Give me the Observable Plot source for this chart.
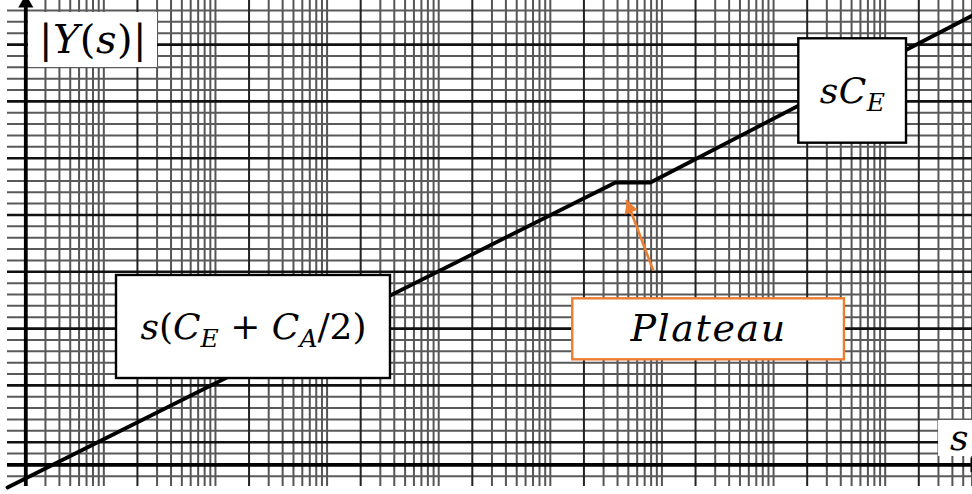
<!DOCTYPE html>
<html>
<head>
<meta charset="utf-8">
<script src="https://cdn.jsdelivr.net/npm/d3@7"></script>
<script src="https://cdn.jsdelivr.net/npm/@observablehq/plot@0.6"></script>
<style>
  html, body { margin: 0; padding: 0; background: #fff; }
  #chart svg { display: block; }
</style>
</head>
<body>
<div id="chart"></div>
<script>
// Powers of ten: values below are written as decade exponents.
const e = (p) => 10 ** p;

// Log-log paper: decades along s, and the rulings drawn inside each decade.
const decades = [0, 1, 2, 3, 4, 5, 6, 7, 8];
const subdivisions = [1, 1.5, 2, 2.5, 3, 3.5, 4, 4.5, 5];
// Horizontal rulings every 0.2 decade of |Y(s)|, a heavier one every full decade.
const yRulingSteps = d3.range(-1, 41);
const yRulingStep = 0.2;

// Asymptotic magnitude |Y(s)|: rising s(C_E + C_A/2), a short plateau, then sC_E.
const curveS = [e(-0.164), e(5.283), e(5.596), e(8.481)];
const curveY = [e(-0.398), e(4.972), e(4.972), e(7.912)];

// Annotation boxes (s and |Y| extents) and their labels.
const labelNames = ["|Y(s)|", "sC_E", "s(C_E + C_A/2)", "Plateau", "s"];
const boxS1 = [e(0.024), e(6.925), e(0.8125), e(4.900), e(8.177)];
const boxS2 = [e(1.180), e(7.890), e(3.267), e(7.334), e(8.547)];
const boxY1 = [e(6.996), e(5.664), e(1.521), e(1.850), e(0.148)];
const boxY2 = [e(7.965), e(7.502), e(3.335), e(2.924), e(0.782)];
// Rich-text runs per label: [text, italic, subscript]
const labelRuns = [
  [["|", 0], ["Y", 1], ["(", 0], ["s", 1], [")", 0], ["|", 0]],
  [["s", 1], ["C", 1], ["E", 1, 1]],
  [["s", 1], ["(", 0], ["C", 1], ["E", 1, 1], [" + ", 0], ["C", 1], ["A", 1, 1], ["/2)", 0]],
  [["Plateau", 1]],
  [["s", 1]]
];

// Pointer from the "Plateau" box to the flat part of the curve: tail, tip.
const pointerS = [e(5.621), e(5.381)];
const pointerY = [e(3.423), e(4.667)];

const xDomain = [e(-0.2267), e(8.4811)];
const yDomain = [e(-0.5211), e(8.176)];
const rulingLeft = e(-0.164);
const rulingBottom = e(-0.38);

const xRulings = decades.flatMap((d) => subdivisions.map((m) => ({v: m * e(d), major: m === 1})));
const yRulings = yRulingSteps.map((k) => ({v: e(k * yRulingStep), major: (k - 2) % 5 === 0}));

const orange = "#ED7D31";
const labelFont = "DejaVu Serif";
const labelSize = [40, 36, 36, 38, 36];
const labelTracking = [0.5, 0.5, 0, 1.6, 0];
const idx = (arr) => arr.map((_, i) => i);
const boxCenterS = (i) => Math.sqrt(boxS1[i] * boxS2[i]);
const boxCenterY = (i) => Math.sqrt(boxY1[i] * boxY2[i]);

const chart = Plot.plot({
  width: 972,
  height: 494,
  margin: 0,
  x: {type: "log", domain: xDomain, axis: null},
  y: {type: "log", domain: yDomain, axis: null},
  style: {background: "#fff", overflow: "visible"},
  marks: [
    // paper rulings
    Plot.ruleX(xRulings.filter((r) => !r.major), {x: "v", y1: rulingBottom, y2: yDomain[1], stroke: "#555", strokeWidth: 2}),
    Plot.ruleY(yRulings.filter((r) => !r.major), {y: "v", x1: rulingLeft, x2: xDomain[1], stroke: "#5a5a5a", strokeWidth: 2}),
    Plot.ruleX(xRulings.filter((r) => r.major), {x: "v", y1: rulingBottom, y2: yDomain[1], stroke: "#222", strokeWidth: 2}),
    Plot.ruleY(yRulings.filter((r) => r.major), {y: "v", x1: rulingLeft, x2: xDomain[1], stroke: "#111", strokeWidth: 2.6}),
    // axes with arrowheads
    Plot.ruleY([1], {x1: rulingLeft, x2: e(8.47), stroke: "#000", strokeWidth: 3.8}),
    Plot.ruleX([1], {y1: rulingBottom, y2: e(8.053), stroke: "#000", strokeWidth: 3.8}),
    Plot.dot([0], {x: 1, y: e(8.129), symbol: "triangle", r: 5.6, fill: "#000", stroke: null}),
    Plot.dot([0], {x: e(8.502), y: 1, symbol: "triangle", r: 5.6, fill: "#000", stroke: null, rotate: 90}),
    // magnitude curve
    Plot.line(idx(curveS), {x: (i) => curveS[i], y: (i) => curveY[i], stroke: "#000", strokeWidth: 3.8, strokeLinejoin: "miter"}),
    // label boxes
    Plot.rect([0, 4], {x1: (i) => boxS1[i], x2: (i) => boxS2[i], y1: (i) => boxY1[i], y2: (i) => boxY2[i], fill: "#fff"}),
    Plot.rect([1, 2], {x1: (i) => boxS1[i], x2: (i) => boxS2[i], y1: (i) => boxY1[i], y2: (i) => boxY2[i], fill: "#fff", stroke: "#000", strokeWidth: 2.4}),
    Plot.rect([3], {x1: (i) => boxS1[i], x2: (i) => boxS2[i], y1: (i) => boxY1[i], y2: (i) => boxY2[i], fill: "#fff", stroke: orange, strokeWidth: 2.4}),
    Plot.text(idx(labelNames), {
      x: boxCenterS, y: boxCenterY, text: (i) => labelNames[i],
      fontSize: 36, fontFamily: labelFont, fill: "#000"
    }),
    // pointer to the plateau
    Plot.link([0], {x1: pointerS[0], y1: pointerY[0], x2: pointerS[1], y2: pointerY[1], stroke: orange, strokeWidth: 2.6}),
    Plot.dot([0], {x: pointerS[1], y: pointerY[1], dx: 3.3, dy: 8.7, symbol: "triangle", r: 5.2, rotate: -20.7, fill: orange, stroke: null})
  ]
});

// Typeset the labels: italic variables, upright operators, lowered subscripts.
d3.select(chart).selectAll('g[aria-label="text"] text').each(function (_, j) {
  const t = d3.select(this);
  const size = labelSize[j];
  t.text(null).attr("font-size", size).attr("letter-spacing", labelTracking[j]);
  let shift = 0;
  for (const [str, italic, sub] of labelRuns[j]) {
    const want = sub ? Math.round(size * 0.22) : 0;
    t.append("tspan")
      .attr("dy", want - shift)
      .attr("font-style", italic ? "italic" : "normal")
      .attr("font-size", sub ? Math.round(size * 0.7) : size)
      .style("white-space", "pre")
      .text(str);
    shift = want;
  }
});

document.getElementById("chart").append(chart);
</script>
</body>
</html>
